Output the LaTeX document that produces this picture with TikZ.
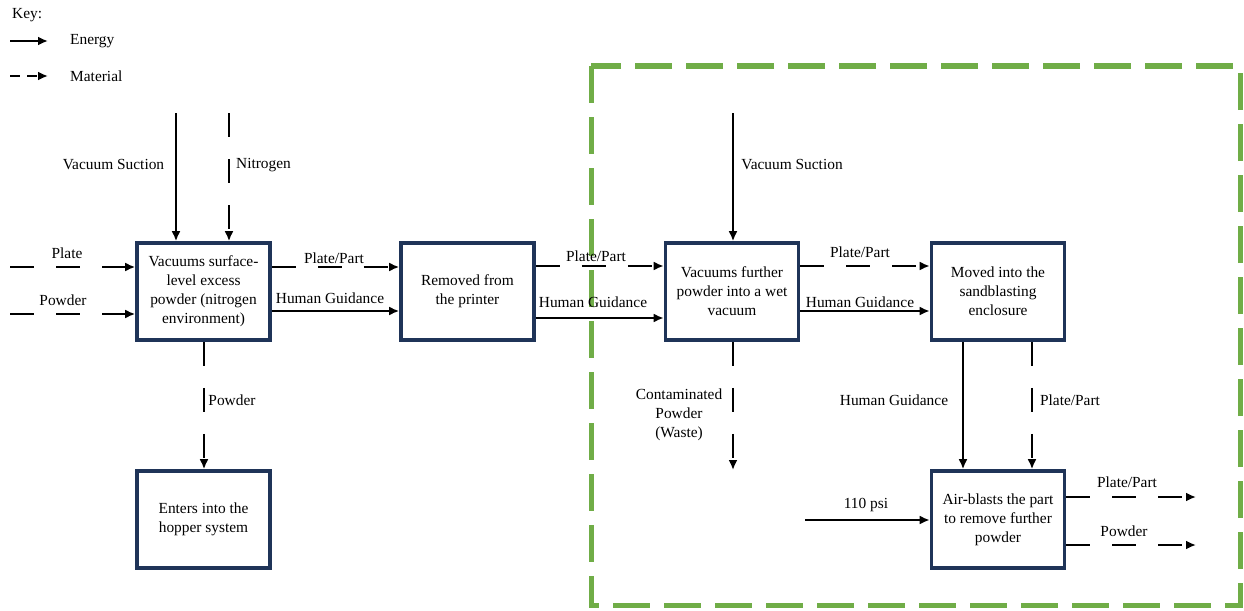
\documentclass[tikz,border=0pt]{standalone}
\usepackage{fontspec}
\setmainfont{Liberation Serif}
\usetikzlibrary{arrows.meta}
\definecolor{boxblue}{RGB}{31,52,88}
\definecolor{zonegreen}{RGB}{112,173,71}

\begin{document}
\begin{tikzpicture}[x=1pt,y=-1pt,
    font=\fontsize{15.4}{19}\selectfont,
    blk/.style={draw=boxblue,line width=3.6pt,fill=white,minimum width=133pt,
      minimum height=97pt,align=center,inner sep=0pt},
    lbl/.style={align=center,inner sep=0pt},
    nrg/.style={line width=2.7pt,-{Latex[length=10pt,width=9pt]}},
    mat/.style={nrg,dash pattern=on 24pt off 22pt},
    keymat/.style={nrg,dash pattern=on 10pt off 7pt}]
        \useasboundingbox (0,0) rectangle (1244,610);
        \draw[zonegreen,line width=5pt,dash pattern=on 37pt off 14pt]
          (591,66) rectangle (1240,605);

        \node[lbl,anchor=west] (key) at (12,15) {Key:};
        \coordinate (ke0) at (10,41);
        \coordinate (ke1) at (48,41);
        \coordinate (km0) at (10,76);
        \coordinate (km1) at (48,76);
        \draw[nrg] (ke0) -- (ke1);
        \draw[keymat] (km0) -- (km1);
        \node[lbl,anchor=west] (energy) at (70,41) {Energy};
        \node[lbl,anchor=west] (material) at (70,76) {Material};

        \node[blk] (vac1) at (203.5,291.5) {Vacuums surface-\\level excess\\powder (nitrogen\\environment)};
        \node[blk] (remove) at (467.5,291.5) {Removed from\\the printer};
        \node[blk] (vac2) at (732,291.5) {Vacuums further\\powder into a wet\\vacuum};
        \node[blk] (move) at (998,291.5) {Moved into the\\sandblasting\\enclosure};
        \node[blk] (hopper) at (203.5,519.5) {Enters into the\\hopper system};
        \node[blk] (blast) at (998,519.5) {Air-blasts the part\\to remove further\\powder};

        \coordinate (suc1) at (176,113);
        \coordinate (nit) at (229,113);
        \coordinate (plate) at (10,267);
        \coordinate (powd) at (10,314);
        \coordinate (suc2) at (733,113);
        \coordinate (waste) at (733,470);
        \coordinate (psi) at (805,520);
        \coordinate (outpart) at (1196,497);
        \coordinate (outpowd) at (1196,545);

        \draw[nrg] (suc1) -- (suc1 |- vac1.north);
        \draw[mat] (nit) -- (nit |- vac1.north);
        \draw[mat] (plate) -- (vac1.west |- plate);
        \draw[mat] (powd) -- (vac1.west |- powd);
        \draw[mat] (vac1.east |- 0,267) -- (remove.west |- 0,267);
        \draw[nrg] (vac1.east |- 0,311) -- (remove.west |- 0,311);
        \draw[mat] (vac1.south -| 204,0) -- (hopper.north -| 204,0);
        \draw[mat] (remove.east |- 0,266) -- (vac2.west |- 0,266);
        \draw[nrg] (remove.east |- 0,318) -- (vac2.west |- 0,318);
        \draw[nrg] (suc2) -- (suc2 |- vac2.north);
        \draw[mat] (vac2.east |- 0,266) -- (move.west |- 0,266);
        \draw[nrg] (vac2.east |- 0,311) -- (move.west |- 0,311);
        \draw[mat] (vac2.south -| waste) -- (waste);
        \draw[nrg] (move.south -| 963,0) -- (blast.north -| 963,0);
        \draw[mat] (move.south -| 1032,0) -- (blast.north -| 1032,0);
        \draw[nrg] (psi) -- (blast.west |- psi);
        \draw[mat] (blast.east |- outpart) -- (outpart);
        \draw[mat] (blast.east |- outpowd) -- (outpowd);

        \node[lbl] (suc1-lbl) at (113.5,165) {Vacuum Suction};
        \node[lbl] (nit-lbl) at (263.5,165) {Nitrogen};
        \node[lbl] (plate-lbl) at (67,253) {Plate};
        \node[lbl] (powd-lbl) at (63,300) {Powder};
        \node[lbl] (part1-lbl) at (334,258) {Plate/Part};
        \node[lbl] (hg1-lbl) at (330,298) {Human Guidance};
        \node[lbl] (hop-lbl) at (232,400) {Powder};
        \node[lbl] (part2-lbl) at (596,256) {Plate/Part};
        \node[lbl] (hg2-lbl) at (593,302) {Human Guidance};
        \node[lbl] (suc2-lbl) at (792,165) {Vacuum Suction};
        \node[lbl] (part3-lbl) at (860,252) {Plate/Part};
        \node[lbl] (hg3-lbl) at (860,302) {Human Guidance};
        \node[lbl] (waste-lbl) at (679,415) {Contaminated\\Powder\\(Waste)};
        \node[lbl] (hg4-lbl) at (894,400) {Human Guidance};
        \node[lbl] (part4-lbl) at (1070,400) {Plate/Part};
        \node[lbl] (psi-lbl) at (866,505) {110 psi};
        \node[lbl] (part5-lbl) at (1127,482) {Plate/Part};
        \node[lbl] (powd5-lbl) at (1124,531) {Powder};
      \end{tikzpicture}
\end{document}
